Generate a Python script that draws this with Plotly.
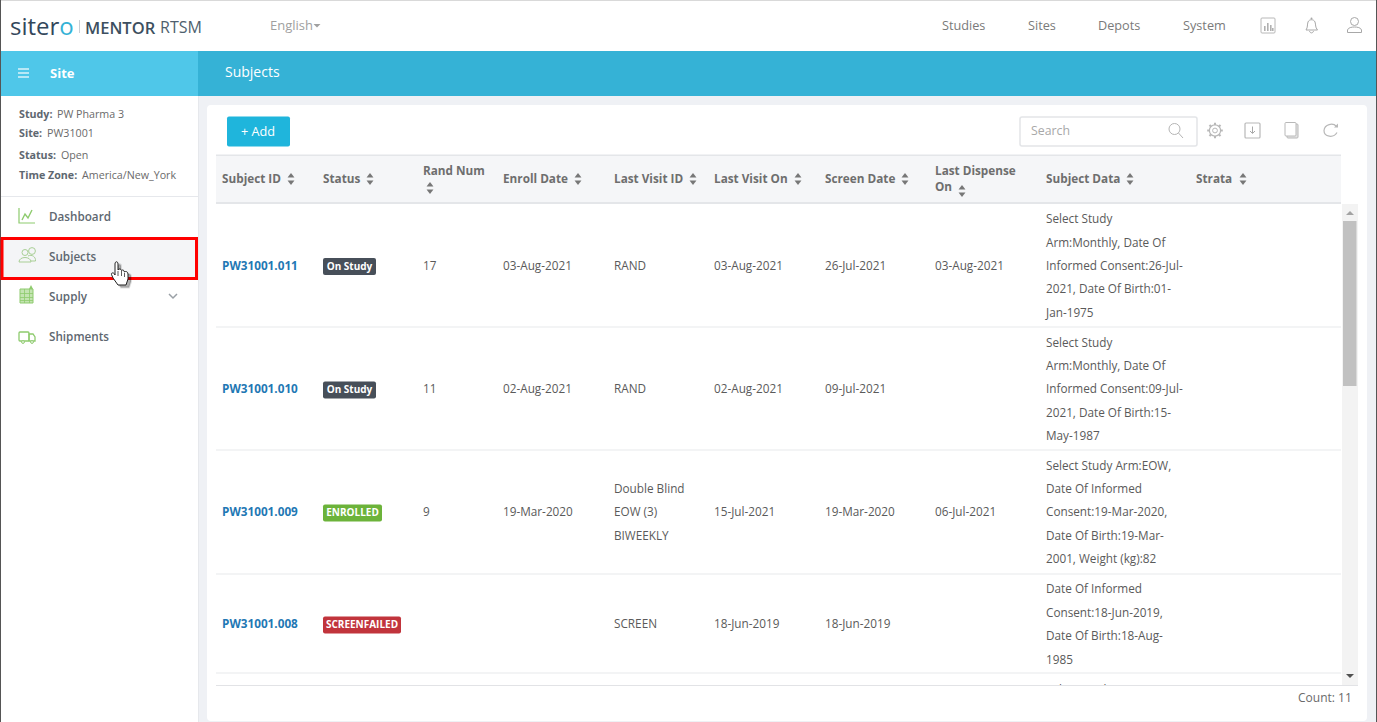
import math
import plotly.graph_objects as go

# Table contents
headers = [["Subject ID"], ["Status"], ["Rand Num"], ["Enroll Date"], ["Last Visit ID"],
           ["Last Visit On"], ["Screen Date"], ["Last Dispense", "On"], ["Subject Data"], ["Strata"]]
subject_ids = ["PW31001.011", "PW31001.010", "PW31001.009", "PW31001.008"]
statuses = ["On Study", "On Study", "ENROLLED", "SCREENFAILED"]
rand_nums = ["17", "11", "9", ""]
enroll_dates = ["03-Aug-2021", "02-Aug-2021", "19-Mar-2020", ""]
last_visit_ids = [["RAND"], ["RAND"], ["Double Blind", "EOW (3)", "BIWEEKLY"], ["SCREEN"]]
last_visit_on = ["03-Aug-2021", "02-Aug-2021", "15-Jul-2021", "18-Jun-2019"]
screen_dates = ["26-Jul-2021", "09-Jul-2021", "19-Mar-2020", "18-Jun-2019"]
last_dispense = ["03-Aug-2021", "", "06-Jul-2021", ""]
subject_data = [
    ["Select Study", "Arm:Monthly, Date Of", "Informed Consent:26-Jul-", "2021, Date Of Birth:01-", "Jan-1975"],
    ["Select Study", "Arm:Monthly, Date Of", "Informed Consent:09-Jul-", "2021, Date Of Birth:15-", "May-1987"],
    ["Select Study Arm:EOW,", "Date Of Informed", "Consent:19-Mar-2020,", "Date Of Birth:19-Mar-", "2001, Weight (kg):82"],
    ["Date Of Informed", "Consent:18-Jun-2019,", "Date Of Birth:18-Aug-", "1985"],
]
study_info = [("Study:", "PW Pharma 3"), ("Site:", "PW31001"), ("Status:", "Open"),
              ("Time Zone:", "America/New_York")]
nav_items = ["Dashboard", "Subjects", "Supply", "Shipments"]
top_links = ["Studies", "Sites", "Depots", "System"]

# Layout guides, in page pixels
col_x = [222, 323, 423, 503, 614, 714, 825, 935, 1046, 1196]
sort_x = [291, 370, 430, 578, 693, 798, 905, 962, 1130, 1243]
sort_y = [179, 179, 188, 179, 179, 179, 179, 191, 179, 179]
row_y = [265.5, 389, 512, 624]
row_lines = [327, 450, 574, 673]
line_gap = 23.4
badge_w = [53, 53, 59, 78]
badge_color = {"On Study": "#474f59", "ENROLLED": "#6cb33a", "SCREENFAILED": "#c1343c"}

FONT = "Open Sans"
TEXT = "#5a5a5a"
CELL = 11.75

shapes = []
annotations = []


def rect(x0, y0, x1, y1, fill, line=None, width=1, layer="below"):
    shapes.append(dict(type="rect", x0=x0, y0=y0, x1=x1, y1=y1, fillcolor=fill, layer=layer,
                       line=dict(color=line or fill, width=width if line else 0)))


def path(p, fill="rgba(0,0,0,0)", line=None, width=1, layer="below"):
    shapes.append(dict(type="path", path=p, fillcolor=fill, layer=layer,
                       line=dict(color=line or "rgba(0,0,0,0)", width=width if line else 0)))


def rrect(x0, y0, x1, y1, r, fill="rgba(0,0,0,0)", line=None, width=1):
    p = (f"M{x0+r},{y0} L{x1-r},{y0} Q{x1},{y0} {x1},{y0+r} L{x1},{y1-r} Q{x1},{y1} {x1-r},{y1} "
         f"L{x0+r},{y1} Q{x0},{y1} {x0},{y1-r} L{x0},{y0+r} Q{x0},{y0} {x0+r},{y0} Z")
    path(p, fill, line, width)


def circle(cx, cy, r, fill="rgba(0,0,0,0)", line=None, width=1):
    shapes.append(dict(type="circle", x0=cx-r, y0=cy-r, x1=cx+r, y1=cy+r, fillcolor=fill, layer="below",
                       line=dict(color=line or "rgba(0,0,0,0)", width=width if line else 0)))


def label(x, y, text, size=12, color=TEXT, weight=400, anchor="left"):
    # annotations sit 1px in from their anchor
    x = x - 1 if anchor == "left" else x + 1
    annotations.append(dict(x=x, y=y, text=text, showarrow=False, xanchor=anchor, yanchor="middle",
                            xref="x", yref="y", borderpad=0,
                            font=dict(family=FONT, size=size, color=color, weight=weight)))


# Page blocks
rect(0, 0, 1377, 722, "#eff1f5")
rect(0, 1, 1377, 51, "#ffffff")
rect(0, 51, 198, 96, "#4fc7e9")
rect(198, 51, 1377, 96, "#35b2d6")
rect(0, 96, 198, 722, "#ffffff")
rect(198, 96, 199, 722, "#e6e8ec")
rect(0, 0, 1377, 1, "#d9d9d9")
rect(0, 0, 1, 722, "#555555")
rect(1376, 0, 1377, 722, "#555555")
rrect(207, 105, 1367, 721, 4, fill="#ffffff")

# Logo and top nav
label(10, 25, 'siter<span style="color:#35b2d6">o</span>', size=24, color="#33475b", weight=500)
rect(79, 20, 80, 33, "#c9ced4")
label(85, 27, "MENTOR", size=16.5, color="#3d4f60", weight=600)
label(160, 27, "RTSM", size=16, color="#4f5f6e")
label(270, 25, "English", size=13, color="#a0a0a0")
path("M313.5,24 L320.5,24 L317,27.5 Z", "#a0a0a0")
for x, t in zip([942, 1028, 1098, 1183], top_links):
    label(x, 25, t, size=12.7, color="#7a7a7a")

# Top right icons
rrect(1261, 18, 1275, 33, 1, line="#b8b8b8")
for x0, y0 in [(1264, 26), (1267, 23), (1270, 25), (1272, 28)]:
    rect(x0, y0, x0+1.6, 31, "#b0b0b0")
path("M1306,30 C1308,27 1307,25 1308,22 C1309,19 1314,19 1315,22 C1316,25 1315,27 1317.5,30 Z", line="#a8a8a8")
circle(1311.5, 18.5, 1, "#a8a8a8")
path("M1309.5,31 C1310,33.5 1313,33.5 1313.5,31", line="#a8a8a8")
circle(1354.5, 21.5, 4, line="#a8a8a8")
path("M1347.5,32.5 L1347.5,30 C1348,27.5 1352,27 1354.5,27 C1357,27 1361,27.5 1361.5,30 L1361.5,32.5 Z", line="#a8a8a8")

# Blue bar
for y in [69, 73, 77]:
    rect(18, y-0.6, 29, y+0.6, "#ffffff")
label(50, 73, "Site", size=13, color="#ffffff", weight=700)
label(225, 71.5, "Subjects", size=14, color="#ffffff", weight=500)

# Sidebar
for y, (k, v), vx in zip([113.5, 133, 155, 175], study_info, [57, 47, 61, 82]):
    label(19, y, k, size=10.7, color="#5e6770", weight=700)
    label(vx, y, v, size=10.7, color="#6a6a6a")
rect(1, 196, 198, 197, "#e6e8ec")
rect(2, 238.5, 196.5, 278.5, "#f4f5f7", line="#ff0000", width=3)
for y, t in zip([215.5, 255.5, 295.5, 335.5], nav_items):
    label(49, y, t, size=11.7, color="#5e6770", weight=600)
path("M169,294 L173,298 L177,294", line="#9aa0a6", width=1.5)

# Sidebar icons
G = "#8ecb6e"
path("M19,208 L19,223 L35,223", line=G, width=1.2)
path("M22,220 L25,214 L28,218 L32,210", line=G, width=1.4)
circle(25, 252.5, 3, line="#a9cf96")
circle(32, 251, 3.4, line="#a9cf96")
path("M19,262 C19,256 31,256 31,262 Z", line="#a9cf96")
path("M28,256 C32,254 36,257 35.5,261 L31,261", line="#a9cf96")
rect(20, 289, 33, 303, "#c4e4b2", line=G)
for x in [24, 29]:
    rect(x, 289, x+0.8, 303, G)
for y in [293, 297, 300]:
    rect(20, y, 33, y+0.8, G)
path("M29,289 L31,285 L33,289 Z", G)
rrect(19, 332, 29, 341, 1, line=G, width=1.3)
path("M29,334 L33,334 L35,337 L35,341 L29,341 Z", line=G, width=1.3)
circle(23, 342, 1.4, "#ffffff", line=G)
circle(32, 342, 1.4, "#ffffff", line=G)

# Toolbar
rrect(227, 116.5, 290, 146.5, 2, fill="#1fb5dc")
label(241, 130.5, "+ Add", size=12.7, color="#ffffff", weight=500)
rrect(1020, 117, 1197, 146, 2, fill="#ffffff", line="#e3e5e8", width=1.5)
label(1031, 130.5, "Search", size=12.3, color="#a8a8a8")
circle(1174.5, 129, 5.5, line="#b5b5b5")
path("M1178.5,133 L1183,138", line="#b5b5b5")
# gear
circle(1215, 130.5, 5.6, line="#b8b8b8", width=1.2)
circle(1215, 130.5, 2.4, line="#b8b8b8")
for k in range(8):
    a = k * math.pi / 4
    path(f"M{1215+5.6*math.cos(a):.2f},{130.5+5.6*math.sin(a):.2f} L{1215+7.8*math.cos(a):.2f},{130.5+7.8*math.sin(a):.2f}",
         line="#b8b8b8", width=2)
rrect(1245, 123, 1260, 138, 1, line="#b8b8b8", width=1.2)
path("M1252.5,126.5 L1252.5,133 M1250,131 L1252.5,133.5 L1255,131", line="#a8a8a8")
rrect(1287, 124, 1298, 138, 1, fill="#e6e6e6", line="#b8b8b8")
rrect(1285, 122.5, 1296, 136, 1, fill="#ffffff", line="#b8b8b8")
# refresh
path("M1336.5,126.5 C1333,122.5 1324.5,124 1324,130.5 C1324,137 1333.5,138.5 1337,132.5", line="#b8b8b8", width=1.2)
path("M1334,127.5 L1338,127.5 L1338,123.5 Z", "#b8b8b8")

# Table frame
rect(216, 155, 1341, 203, "#f5f6f8")
rect(216, 154.5, 1341, 156, "#e4e6e9")
rect(216, 202, 1341, 204, "#e4e6e9")
for y in row_lines:
    rect(216, y-0.5, 1341, y+0.5, "#e8e9ec")

# Status badges
for status, w, y in zip(statuses, badge_w, row_y):
    rrect(323, y-7.5, 323+w, y+9.5, 2, fill=badge_color[status])

# Scrollbar
rect(1342, 204, 1358, 685, "#f3f3f3")
rect(1343, 221, 1356.5, 386, "#c1c1c1")
path("M1346,215 L1354,215 L1350,211 Z", "#a3a3a3")
path("M1346,674 L1354,674 L1350,678 Z", "#505050")

# Covers the row cut off at the bottom of the scroll area
rect(216, 685, 1358, 720, "#ffffff", layer="above")
rect(216, 685, 1358, 686, "#e2e3e6", layer="above")

fig = go.Figure()


def cells(xs, ys, texts, size=CELL, color=TEXT, weight=400, pos="middle right"):
    # scatter text sits about 1.5px high against the reference rows
    fig.add_trace(go.Scatter(x=xs, y=[y + 1.5 for y in ys], text=texts, mode="text", textposition=pos,
                             hoverinfo="skip", cliponaxis=False, showlegend=False,
                             textfont=dict(family=FONT, size=size, color=color, weight=weight)))


# Header cells
hx, hy, ht = [], [], []
for x, head in zip(col_x, headers):
    if len(head) == 2:
        hx += [x, x]; hy += [171, 187]; ht += head
    elif head[0] == "Rand Num":
        hx.append(x); hy.append(171); ht.append(head[0])
    else:
        hx.append(x); hy.append(179); ht.append(head[0])
cells(hx, hy, ht, color="#6e6e6e", weight=700)

# Sort arrows
fig.add_trace(go.Scatter(x=sort_x, y=[y-3 for y in sort_y], mode="markers", hoverinfo="skip", showlegend=False,
                         marker=dict(symbol="triangle-up", size=6, color="#777777")))
fig.add_trace(go.Scatter(x=sort_x, y=[y+3 for y in sort_y], mode="markers", hoverinfo="skip", showlegend=False,
                         marker=dict(symbol="triangle-down", size=6, color="#777777")))

# Body cells
cells([col_x[0]]*4, row_y, subject_ids, color="#1f78b4", weight=700)
cells([col_x[2]]*4, row_y, rand_nums)
cells([col_x[3]]*4, row_y, enroll_dates)
cells([col_x[5]]*4, row_y, last_visit_on)
cells([col_x[6]]*4, row_y, screen_dates)
cells([col_x[7]]*4, row_y, last_dispense)
for y, lines in zip(row_y, last_visit_ids):
    n = len(lines)
    cells([col_x[4]]*n, [y + (i-(n-1)/2)*line_gap for i in range(n)], lines)
for y, lines in zip(row_y, subject_data):
    n = len(lines)
    cells([col_x[8]]*n, [y + (i-(n-1)/2)*line_gap for i in range(n)], lines)
cells([col_x[8]], [690], ["Select Study"])

# Badge captions
cells([323+w/2 for w in badge_w], row_y, statuses, size=10, color="#ffffff", weight=700, pos="middle center")

label(1352, 697.5, "Count: 11", size=12, color="#6a6a6a", anchor="right")


def hand(dx, dy):
    return (f"M{115+dx},{264+dy} C{115+dx},{261+dy} {118+dx},{261+dy} {118+dx},{264+dy} L{118+dx},{270+dy} "
            f"C{119+dx},{268.5+dy} {121+dx},{268.5+dy} {121.5+dx},{270.5+dy} C{122.5+dx},{269.5+dy} {124+dx},{270+dy} {124.5+dx},{272+dy} "
            f"C{125.5+dx},{271+dy} {128+dx},{271.5+dy} {128+dx},{274+dy} L{128+dx},{279+dy} L{126+dx},{285+dy} "
            f"L{118+dx},{285+dy} L{113+dx},{278+dy} L{111.5+dx},{274.5+dy} C{111+dx},{272.5+dy} {114+dx},{272+dy} {115+dx},{275+dy} Z")


# Hand cursor
path(hand(3, 2.5), "rgba(0,0,0,0.3)", "rgba(0,0,0,0.12)", 2, layer="above")
path(hand(0, 0), "#ffffff", "#222222", 1, layer="above")
path("M118,271 L118,276 M121.5,271 L121.5,276 M124.5,273 L124.5,277", line="#333333", width=0.8, layer="above")

fig.update_layout(
    width=1377, height=722, margin=dict(l=0, r=0, t=0, b=0),
    paper_bgcolor="#eff1f5", plot_bgcolor="rgba(0,0,0,0)", showlegend=False,
    xaxis=dict(range=[0, 1377], visible=False, fixedrange=True),
    yaxis=dict(range=[722, 0], visible=False, fixedrange=True),
    shapes=shapes, annotations=annotations,
)

fig.write_html("out.html", config={"displayModeBar": False},
               post_script="document.body.style.margin='0';document.body.style.overflow='hidden';")
